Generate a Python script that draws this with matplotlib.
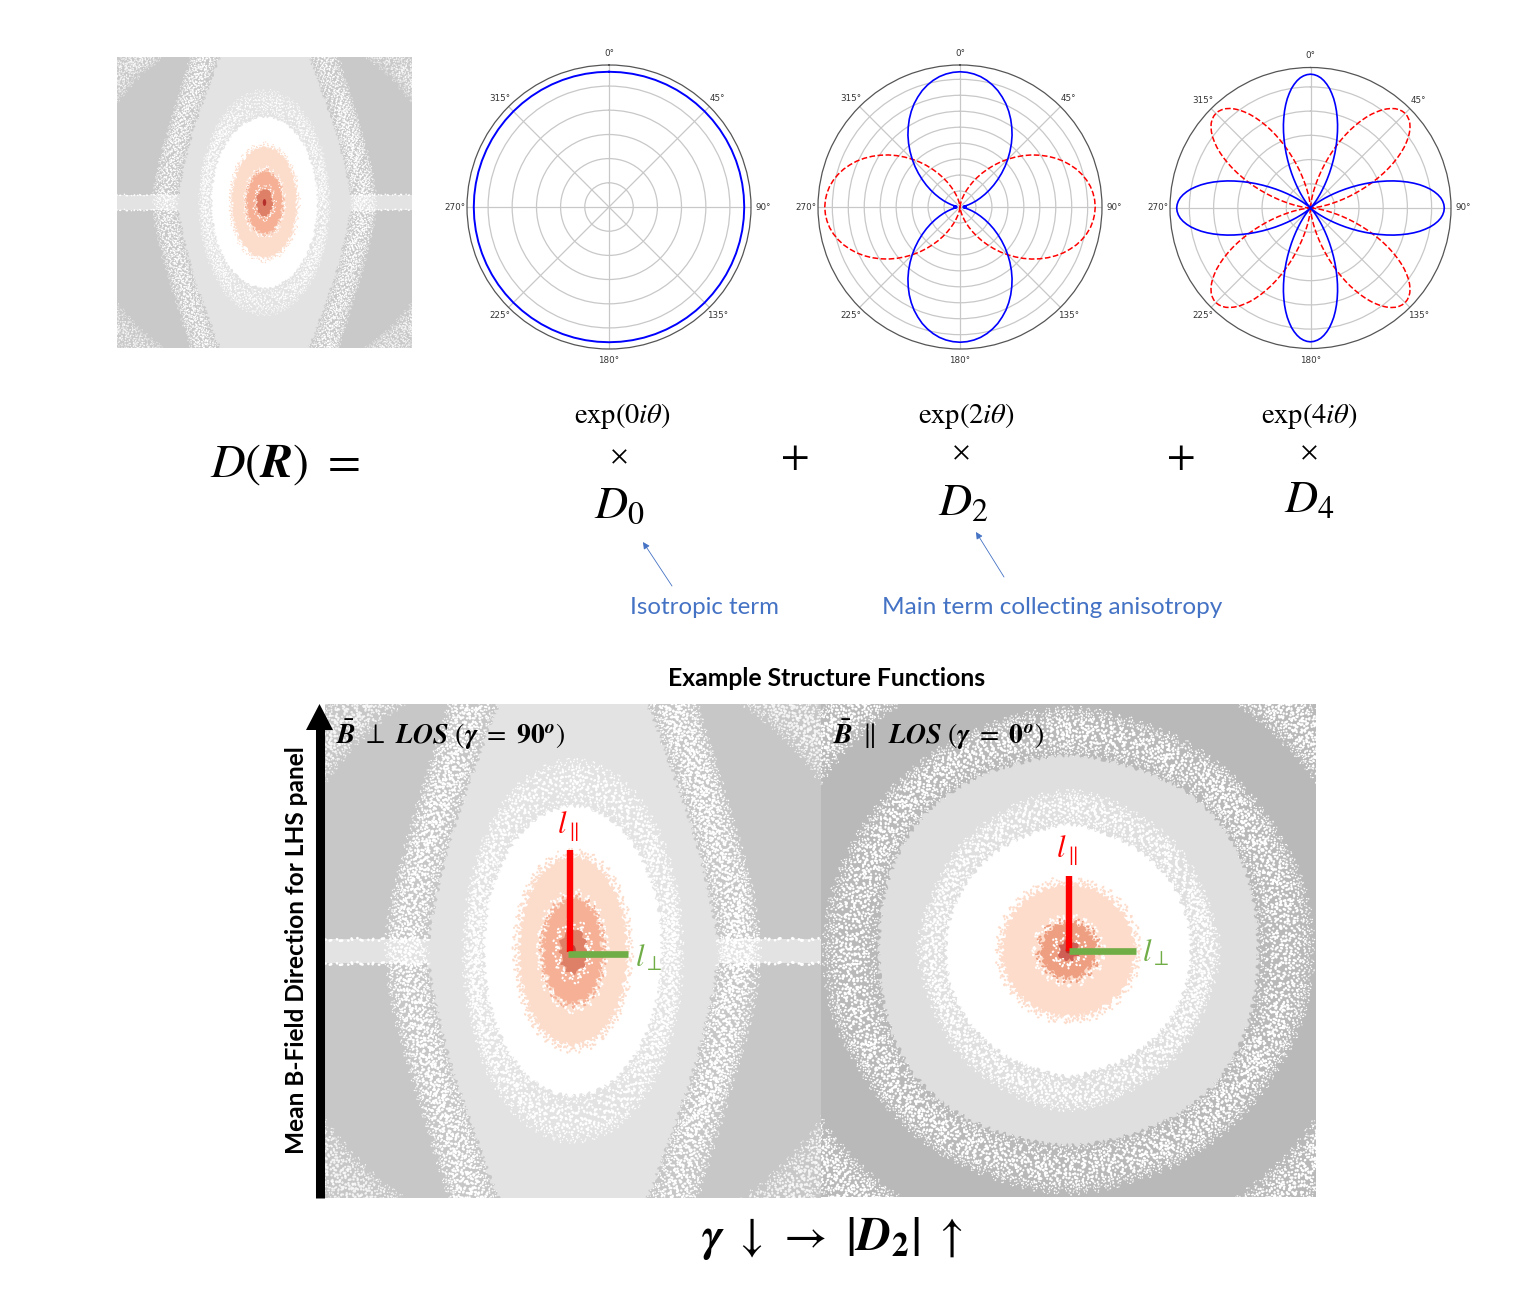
"""
Structure function decomposition figure: speckled D(R) panels, polar harmonics and equation text.
"""
import numpy as np
import matplotlib
matplotlib.use('Agg')
import matplotlib.pyplot as plt
from matplotlib.patches import PathPatch, Rectangle
from matplotlib.path import Path

plt.rcParams['mathtext.fontset'] = 'stix'
plt.rcParams['font.family'] = ['Lato', 'DejaVu Sans']

FIG_W, FIG_H = 1529, 1301

# radii of the contour bands, in panel half widths, read every 15 deg from "up" to "right"
BAND_ANGLES = [0, 15, 30, 45, 60, 75, 90]

GAMMA90_GRAY_IN = [1.50, 1.10, 0.815, 0.689, 0.614, 0.587, 0.59]
GAMMA90_GRAY_OUT = [1.70, 1.45, 1.054, 0.874, 0.79, 0.761, 0.76]
GAMMA90_WHITE_IN = [0.60, 0.567, 0.499, 0.436, 0.393, 0.368, 0.36]
GAMMA90_WHITE_OUT = [0.80, 0.744, 0.638, 0.545, 0.484, 0.451, 0.44]
GAMMA90_PEACH_IN = [0.39, 0.365, 0.315, 0.27, 0.24, 0.223, 0.218]
GAMMA90_PEACH_OUT = [0.42, 0.392, 0.338, 0.29, 0.258, 0.24, 0.235]
GAMMA90_FLECK_OUT = [0.25, 0.23, 0.20, 0.17, 0.15, 0.14, 0.135]
GAMMA90_SALMON_IN = [0.215, 0.20, 0.17, 0.145, 0.13, 0.12, 0.116]
GAMMA90_SALMON_OUT = [0.23, 0.214, 0.182, 0.155, 0.139, 0.129, 0.125]
GAMMA90_RED_IN = [0.095, 0.087, 0.075, 0.066, 0.058, 0.053, 0.05]
GAMMA90_RED_OUT = [0.135, 0.122, 0.105, 0.092, 0.082, 0.075, 0.072]
GAMMA90_CORE = [0.025, 0.022, 0.018, 0.015, 0.013, 0.012, 0.012]
GAMMA90_STREAK = 0.05

GAMMA0_GRAY_IN = [0.80, 0.79, 0.80, 0.81, 0.80, 0.78, 0.77]
GAMMA0_GRAY_OUT = [1.00, 0.98, 0.98, 0.98, 0.98, 1.00, 1.00]
GAMMA0_WHITE_IN = [0.52, 0.50, 0.50, 0.50, 0.50, 0.50, 0.50]
GAMMA0_WHITE_OUT = [0.66, 0.64, 0.62, 0.62, 0.60, 0.60, 0.62]
GAMMA0_PEACH_IN = [0.27, 0.27, 0.27, 0.27, 0.27, 0.27, 0.27]
GAMMA0_PEACH_OUT = [0.295, 0.295, 0.295, 0.29, 0.29, 0.29, 0.29]
GAMMA0_FLECK_OUT = [0.14, 0.14, 0.14, 0.14, 0.14, 0.14, 0.14]
GAMMA0_SALMON_IN = [0.11, 0.11, 0.11, 0.11, 0.11, 0.11, 0.11]
GAMMA0_SALMON_OUT = [0.125, 0.125, 0.125, 0.125, 0.125, 0.125, 0.125]
GAMMA0_RED_IN = [0.04, 0.04, 0.04, 0.04, 0.04, 0.04, 0.04]
GAMMA0_RED_OUT = [0.07, 0.07, 0.07, 0.07, 0.07, 0.07, 0.07]
GAMMA0_CORE = [0.012, 0.012, 0.012, 0.012, 0.012, 0.012, 0.012]

CORNER_IN = [1.22, 1.22, 1.22, 1.22, 1.22, 1.22, 1.22]
CORNER_OUT = [1.42, 1.42, 1.42, 1.42, 1.42, 1.42, 1.42]

# polar lobes: radius against angle from the lobe axis (deg)
D0_ANGLES = list(range(0, 361, 5))
D0_RADII = [1.0] * 73

D2_LOBE_ANGLES = [0, 3, 6, 9, 12, 15, 18, 21, 24, 27, 30, 33, 36, 39, 42, 45,
                  48, 51, 54, 57, 60, 63, 66, 69, 72, 75, 78, 81, 84, 87, 90]
LOBE_RADII = [1.0, 0.997, 0.989, 0.976, 0.957, 0.933, 0.905, 0.871, 0.835, 0.794, 0.75,
              0.703, 0.655, 0.604, 0.552, 0.5, 0.448, 0.396, 0.345, 0.297, 0.25,
              0.206, 0.165, 0.129, 0.095, 0.067, 0.043, 0.024, 0.011, 0.003, 0.0]
# the blue D2 lobes stop short of the origin and meet in small cusps
D2_BLUE_RADII = LOBE_RADII[:-3] + [0.044, 0.043, 0.042]
D4_LOBE_ANGLES = [0, 1.5, 3, 4.5, 6, 7.5, 9, 10.5, 12, 13.5, 15, 16.5, 18, 19.5, 21, 22.5,
                  24, 25.5, 27, 28.5, 30, 31.5, 33, 34.5, 36, 37.5, 39, 40.5, 42, 43.5, 45]

D0_RINGS = [0.179, 0.358, 0.536, 0.716, 0.894]
D2_RINGS = [0.118, 0.236, 0.354, 0.472, 0.590, 0.708, 0.826, 0.944]
D4_RINGS = [0.181, 0.362, 0.543, 0.724, 0.905]
D2_BLUE_AXES = [0, 180]
D2_RED_AXES = [90, 270]
D4_BLUE_AXES = [0, 90, 180, 270]
D4_RED_AXES = [45, 135, 225, 315]
THETA_TICKS = [0, 45, 90, 135, 180, 225, 270, 315]

WHITE = 'white'
GAMMA90_BANDS = [
    (GAMMA90_GRAY_IN, GAMMA90_GRAY_OUT, '#e3e3e3', WHITE),
    (GAMMA90_WHITE_IN, GAMMA90_WHITE_OUT, WHITE, WHITE),
    (GAMMA90_PEACH_IN, GAMMA90_PEACH_OUT, '#fcdccb', '#fcdccb'),
    (GAMMA90_SALMON_OUT, GAMMA90_FLECK_OUT, None, WHITE),
    (GAMMA90_SALMON_IN, GAMMA90_SALMON_OUT, '#f5b096', '#f5b096'),
    (GAMMA90_RED_IN, GAMMA90_RED_OUT, '#de7f68', WHITE),
]
GAMMA0_BANDS = [
    (GAMMA0_GRAY_IN, GAMMA0_GRAY_OUT, '#dfdfdf', WHITE),
    (GAMMA0_WHITE_IN, GAMMA0_WHITE_OUT, WHITE, WHITE),
    (GAMMA0_PEACH_IN, GAMMA0_PEACH_OUT, '#fddccb', '#fddccb'),
    (GAMMA0_SALMON_OUT, GAMMA0_FLECK_OUT, None, WHITE),
    (GAMMA0_SALMON_IN, GAMMA0_SALMON_OUT, '#ee9f82', '#ee9f82'),
    (GAMMA0_RED_IN, GAMMA0_RED_OUT, '#cf5f55', WHITE),
]

# irregular dash patterns, the round caps turn them into speckle
SPECKLE_DASHES = [
    (0, (0.1, 1.7, 0.6, 2.6, 0.1, 1.3, 0.9, 3.1)),
    (1.1, (0.4, 2.3, 0.1, 1.2, 0.8, 2.9, 0.2, 1.6)),
    (2.3, (0.1, 1.1, 0.2, 3.3, 0.7, 1.5, 0.1, 2.1)),
    (0.7, (0.9, 1.9, 0.1, 2.7, 0.3, 1.2, 0.5, 2.4)),
]


def ring_path(radii):
    """Closed smooth outline from one quadrant of radii, mirrored to the other three."""
    ang = np.radians(BAND_ANGLES)
    r = np.array(radii, dtype=float)
    ang = np.concatenate([ang, np.pi - ang[-2::-1], np.pi + ang[1:], 2 * np.pi - ang[-2:0:-1]])
    r = np.concatenate([r, r[-2::-1], r[1:], r[-2:0:-1]])
    pts = np.column_stack([r * np.sin(ang), r * np.cos(ang)])
    mids = (pts + np.roll(pts, -1, axis=0)) / 2
    verts = [mids[-1]]
    codes = [Path.MOVETO]
    for p, m in zip(pts, mids):
        verts += [p, m]
        codes += [Path.CURVE3, Path.CURVE3]
    return Path(verts, codes)


def add_speckle(ax, inner, outer, color, lw, half_px, alpha=1.0):
    width_px = np.mean(np.array(outer) - np.array(inner)) * half_px
    layers = max(2, int(round(width_px / (lw * 2.9))))
    for k in range(layers):
        f = (k + 0.5) / layers
        radii = np.array(inner) * (1 - f) + np.array(outer) * f
        # dots get finer towards both edges of the band
        lw_k = lw * (0.55 + 0.75 * np.sin(np.pi * f))
        ring = PathPatch(ring_path(radii), fill=False, ec=color, lw=lw_k, alpha=alpha,
                         ls=SPECKLE_DASHES[k % 4], capstyle='round', zorder=2)
        ring.set_sketch_params(scale=lw * 2.6, length=half_px * 0.05, randomness=4)
        ax.add_patch(ring)


def draw_panel(rect, bg, bands, core, core_color, lw, streak=None, corner_alpha=0.8):
    x0, y0, w, h = rect
    half_px = w / 2
    ax = fig.add_axes([x0 / FIG_W, 1 - (y0 + h) / FIG_H, w / FIG_W, h / FIG_H])
    ax.set_xlim(-1, 1)
    ax.set_ylim(-1, 1)
    ax.axis('off')
    ax.add_patch(Rectangle((-1, -1), 2, 2, fc=bg, ec='none', zorder=0))
    add_speckle(ax, CORNER_IN, CORNER_OUT, WHITE, lw, half_px, alpha=corner_alpha)
    if streak is not None:
        ax.add_patch(Rectangle((-1, -streak), 2, 2 * streak, fc=bands[0][2], ec='none', zorder=1))
        for s in (-streak, streak):
            line, = ax.plot([-1, 1], [s, s], color=WHITE, lw=lw * 1.4, dash_capstyle='round',
                            ls=SPECKLE_DASHES[0], zorder=1.5)
            line.set_sketch_params(scale=lw, length=half_px * 0.05, randomness=4)
    # same zorder, so later bands are stacked over the speckle of earlier ones
    for inner, outer, fill, speck in bands:
        add_speckle(ax, inner, outer, speck, lw, half_px)
        if fill is not None:
            blob = PathPatch(ring_path(inner), fc=fill, ec='none', zorder=2)
            blob.set_sketch_params(scale=lw * 1.5, length=half_px * 0.04, randomness=4)
            ax.add_patch(blob)
    ax.add_patch(PathPatch(ring_path(core), fc=core_color, ec='none', zorder=5))
    return ax


def draw_polar(rect, rings, curves):
    x0, y0, w, h = rect
    ax = fig.add_axes([x0 / FIG_W, 1 - (y0 + h) / FIG_H, w / FIG_W, h / FIG_H], projection='polar')
    ax.set_theta_zero_location('N')
    ax.set_theta_direction(-1)
    ax.set_rlim(0, 1.05)
    ax.set_rticks(rings)
    ax.set_yticklabels([])
    ax.set_xticks(np.radians(THETA_TICKS))
    ax.set_xticklabels([f'{t}°' for t in THETA_TICKS], fontsize=6.3, family='DejaVu Sans', color='#333333')
    ax.tick_params(axis='x', pad=-2)
    ax.grid(color='#c8c8c8', lw=0.9)
    ax.spines['polar'].set_color('#555555')
    ax.spines['polar'].set_linewidth(0.9)
    for th, r, color, ls, lw in curves:
        ax.plot(np.radians(th), r, color=color, ls=ls, lw=lw)
    return ax


def lobes(angles, radii, axes_deg):
    """Angle and radius arrays of full lobes around each axis, separated by NaN."""
    a = np.array(angles, dtype=float)
    r = np.array(radii, dtype=float)
    th_all, r_all = [], []
    for axis in axes_deg:
        th_all += list(axis - a[::-1]) + list(axis + a[1:]) + [np.nan]
        r_all += list(r[::-1]) + list(r[1:]) + [np.nan]
    return th_all, r_all


fig = plt.figure(figsize=(FIG_W / 100, FIG_H / 100), dpi=100, facecolor='white')

draw_panel((117, 57, 295, 291), '#c9c9c9', GAMMA90_BANDS, GAMMA90_CORE, '#b5302a', 0.8,
           streak=GAMMA90_STREAK)
draw_panel((325, 704, 496, 494), '#c7c7c7', GAMMA90_BANDS, GAMMA90_CORE, '#c0413a', 1.35,
           streak=GAMMA90_STREAK)
draw_panel((821, 704, 495, 493), '#b9b9b9', GAMMA0_BANDS, GAMMA0_CORE, '#b5302a', 1.35,
           corner_alpha=1.0)

BLUE = '#0000ff'
RED = '#ff0000'
draw_polar((467, 65, 284, 284), D0_RINGS, [(D0_ANGLES, D0_RADII, BLUE, '-', 1.4)])
draw_polar((818, 65, 284, 284), D2_RINGS, [
    (*lobes(D2_LOBE_ANGLES, LOBE_RADII, D2_RED_AXES), RED, '--', 1.1),
    (*lobes(D2_LOBE_ANGLES, D2_BLUE_RADII, D2_BLUE_AXES), BLUE, '-', 1.2),
])
draw_polar((1170, 67, 281, 282), D4_RINGS, [
    (*lobes(D4_LOBE_ANGLES, LOBE_RADII, D4_RED_AXES), RED, '--', 1.1),
    (*lobes(D4_LOBE_ANGLES, LOBE_RADII, D4_BLUE_AXES), BLUE, '-', 1.2),
])

# overlay in picture pixels for equations and annotations
ov = fig.add_axes([0, 0, 1, 1], zorder=20)
ov.set_xlim(0, FIG_W)
ov.set_ylim(FIG_H, 0)
ov.axis('off')
ov.patch.set_alpha(0)


def eq(x, y, s, size, color='black', **kw):
    ov.text(x, y, s, fontsize=size, color=color, ha='center', va='center', **kw)


eq(285, 465, r'$D(\mathbfit{R})\ =$', 34.5)
for x, n in [(622, 0), (966, 2), (1309, 4)]:
    eq(x, 416, rf'$\mathrm{{exp}}({n}i\theta)$', 20.5)
eq(619, 456, r'$\times$', 19)
eq(961, 452, r'$\times$', 19)
eq(1309, 452, r'$\times$', 19)
eq(794, 456, r'$+$', 30)
eq(1180, 456, r'$+$', 30)
eq(619, 505, r'$D_0$', 33)
eq(963, 502, r'$D_2$', 33)
eq(1309, 499, r'$D_4$', 33)

TERM_BLUE = '#4472c4'
eq(704, 607, 'Isotropic term', 17.3, color=TERM_BLUE)
eq(1052, 607, 'Main term collecting anisotropy', 17.6, color=TERM_BLUE)
for tail, head in [((672, 586), (643, 542)), ((1004, 577), (976, 532))]:
    ov.annotate('', xy=head, xytext=tail,
                arrowprops=dict(arrowstyle='-|>', color=TERM_BLUE, lw=0.6, mutation_scale=10,
                                shrinkA=0, shrinkB=0))

eq(827, 678, 'Example Structure Functions', 17.8, fontweight='bold')
eq(296, 950, 'Mean B-Field Direction for LHS panel', 17.6, fontweight='bold', rotation=90)
ov.plot([319.5, 319.5], [728, 1198], color='black', lw=6.5, solid_capstyle='butt')
ov.fill([306, 319.5, 333], [730, 704, 730], color='black', lw=0)

ov.text(336, 735, r'$\bar{\mathbfit{B}}\ \perp\ \mathbfit{LOS}\ (\boldsymbol{\gamma}\ =\ \mathbf{90}^{\mathbfit{o}})$',
        fontsize=20, va='center', ha='left')
ov.text(833, 735, r'$\bar{\mathbfit{B}}\ \parallel\ \mathbfit{LOS}\ (\boldsymbol{\gamma}\ =\ \mathbf{0}^{\mathbfit{o}})$',
        fontsize=20, va='center', ha='left')

GREEN = '#70ad47'
ov.plot([570, 570], [850, 952], color=RED, lw=4.6, solid_capstyle='butt')
ov.plot([568, 628], [953.5, 953.5], color=GREEN, lw=4.8, solid_capstyle='butt')
ov.plot([1069, 1069], [876, 951], color=RED, lw=4.6, solid_capstyle='butt')
ov.plot([1069, 1136], [951, 951], color=GREEN, lw=4.8, solid_capstyle='butt')
eq(568, 827, r'$l_{\parallel}$', 22, color=RED)
eq(649, 958, r'$l_{\perp}$', 22, color=GREEN)
eq(1067, 851, r'$l_{\parallel}$', 22, color=RED)
eq(1156, 953, r'$l_{\perp}$', 22, color=GREEN)

eq(832, 1238, r'$\boldsymbol{\gamma}\ \downarrow\,\rightarrow\ \left|\mathbfit{D}_{\mathbf{2}}\right|\ \uparrow$', 34)

plt.savefig('out.png', dpi=100)
plt.close()
